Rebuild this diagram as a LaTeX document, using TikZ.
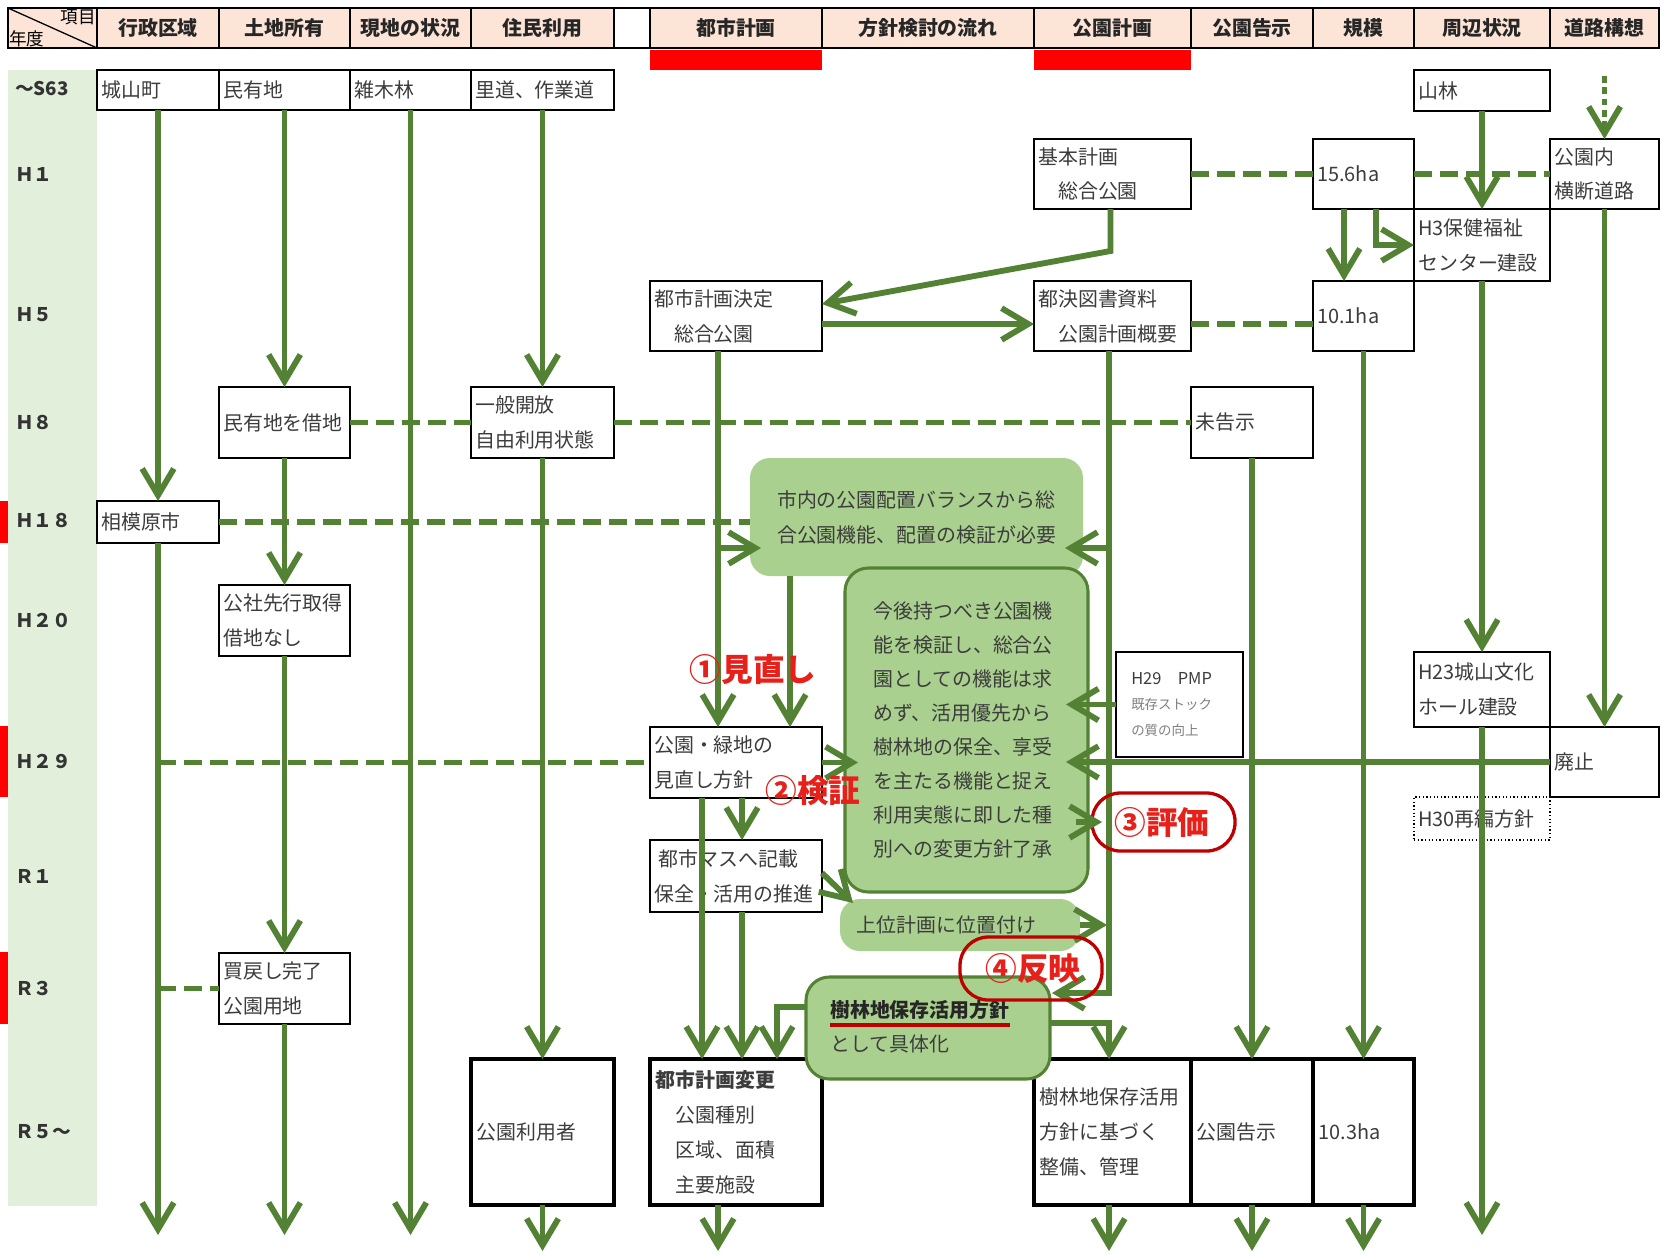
\documentclass[tikz,border=0pt]{standalone}
\usepackage{fontspec}
\setmainfont{Noto Sans CJK JP}
\usetikzlibrary{arrows.meta,fit,calc}
\definecolor{gline}{HTML}{548235}
\definecolor{gfill}{HTML}{A9D08E}
\definecolor{hdr}{HTML}{FCE4D6}
\definecolor{ycol}{HTML}{E2EFDA}
\definecolor{rbar}{HTML}{FF0000}
\definecolor{rtxt}{HTML}{E8201A}
\definecolor{rring}{HTML}{C00000}
\definecolor{tgray}{HTML}{3C3C3C}
\newcommand\mkbox[6][bx]{\node[#1, fit={(#3,#4) (#5,#6)}] (#2) {};}
\newcommand\boxtext[3]{\node[txt,anchor=west] (#1-t) at ([xshift=#2]#1.west) {#3};}
\begin{document}
\begin{tikzpicture}[x=0.03cm,y=-0.03cm,
  bx/.style={draw=black, line width=1.1pt, fill=white, inner sep=0pt, outer sep=0pt},
  tbx/.style={draw=black, line width=3.4pt, fill=white, inner sep=0pt, outer sep=0pt},
  dbx/.style={draw=black, line width=1.1pt, dotted, inner sep=0pt, outer sep=0pt},
  hcell/.style={draw=black, line width=1.1pt, fill=hdr, inner sep=0pt, outer sep=0pt},
  wcell/.style={draw=black, line width=1.1pt, fill=white, inner sep=0pt, outer sep=0pt},
  gbox/.style={fill=gfill, rounded corners=0.6cm, inner sep=0pt, outer sep=0pt},
  gbbox/.style={fill=gfill, draw=gline, line width=2.6pt, rounded corners=0.7cm, inner sep=0pt, outer sep=0pt},
  ring/.style={draw=rring, line width=2.8pt, rounded corners=0.85cm, inner sep=0pt, outer sep=0pt},
  txt/.style={font=\fontsize{17pt}{29.8pt}\selectfont, align=left, text=tgray, inner sep=0pt},
  htxt/.style={font=\bfseries\fontsize{17pt}{20pt}\selectfont, text=black!85, inner sep=0pt},
  ytxt/.style={font=\bfseries\fontsize{16pt}{20pt}\selectfont, text=black!80, inner sep=0pt, anchor=west},
  rlab/.style={font=\bfseries\fontsize{27pt}{30pt}\selectfont, text=rtxt, inner sep=0pt},
  arr/.style={draw=gline, line width=5pt, -{Straight Barb[length=0.8cm,width=0.95cm]}},
  dsh/.style={draw=gline, line width=5pt, dash pattern=on 0.54cm off 0.24cm},
  dtarr/.style={draw=gline, line width=5pt, dash pattern=on 0.2cm off 0.14cm, -{Straight Barb[length=0.8cm,width=0.95cm]}},
]
\fill[white] (0,0) rectangle (1662,1254);
\useasboundingbox (0,0) rectangle (1662,1254);
% year column
\fill[ycol] (8,70) rectangle (97,1206);
\fill[rbar] (0,501) rectangle (8,543);
\fill[rbar] (0,726) rectangle (8,797);
\fill[rbar] (0,952) rectangle (8,1024);
% header
\mkbox[hcell]{hc0}{8}{8}{97}{48}
\draw[line width=1.1pt] (hc0.north west) -- (hc0.south east);
\node[anchor=north east, font=\fontsize{15pt}{16pt}\selectfont, inner sep=1pt] (hc0a) at (hc0.north east) {項目};
\node[anchor=south west, font=\fontsize{15pt}{16pt}\selectfont, inner sep=1pt] (hc0b) at (hc0.south west) {年度};
\mkbox[hcell]{hc1}{97}{8}{219}{48}\node[htxt] (hc1-t) at (hc1) {行政区域};
\mkbox[hcell]{hc2}{219}{8}{350}{48}\node[htxt] (hc2-t) at (hc2) {土地所有};
\mkbox[hcell]{hc3}{350}{8}{471}{48}\node[htxt] (hc3-t) at (hc3) {現地の状況};
\mkbox[hcell]{hc4}{471}{8}{614}{48}\node[htxt] (hc4-t) at (hc4) {住民利用};
\mkbox[wcell]{hc5}{614}{8}{650}{48}
\mkbox[hcell]{hc6}{650}{8}{822}{48}\node[htxt] (hc6-t) at (hc6) {都市計画};
\mkbox[hcell]{hc7}{822}{8}{1034}{48}\node[htxt] (hc7-t) at (hc7) {方針検討の流れ};
\mkbox[hcell]{hc8}{1034}{8}{1191}{48}\node[htxt] (hc8-t) at (hc8) {公園計画};
\mkbox[hcell]{hc9}{1191}{8}{1313}{48}\node[htxt] (hc9-t) at (hc9) {公園告示};
\mkbox[hcell]{hc10}{1313}{8}{1414}{48}\node[htxt] (hc10-t) at (hc10) {規模};
\mkbox[hcell]{hc11}{1414}{8}{1550}{48}\node[htxt] (hc11-t) at (hc11) {周辺状況};
\mkbox[hcell]{hc12}{1550}{8}{1659}{48}\node[htxt] (hc12-t) at (hc12) {道路構想};
\fill[rbar] (650,50) rectangle (822,70);
\fill[rbar] (1034,50) rectangle (1191,70);
% year labels
\node[ytxt] (y0) at (15,89) {～S63};
\node[ytxt] (y1) at (15,174) {Ｈ１};
\node[ytxt] (y2) at (15,315) {Ｈ５};
\node[ytxt] (y3) at (15,422) {Ｈ８};
\node[ytxt] (y4) at (15,520) {Ｈ１８};
\node[ytxt] (y5) at (15,620) {Ｈ２０};
\node[ytxt] (y6) at (15,761) {Ｈ２９};
\node[ytxt] (y7) at (15,876) {Ｒ１};
\node[ytxt] (y8) at (15,988) {Ｒ３};
\node[ytxt] (y9) at (15,1132) {Ｒ５～};
% boxes
\mkbox{jyo}{97}{70}{219}{110}\boxtext{jyo}{0.12cm}{城山町}
\mkbox{minyu}{219}{70}{350}{110}\boxtext{minyu}{0.12cm}{民有地}
\mkbox{zoki}{350}{70}{471}{110}\boxtext{zoki}{0.12cm}{雑木林}
\mkbox{rido}{471}{70}{614}{110}\boxtext{rido}{0.12cm}{里道、作業道}
\mkbox{sanrin}{1414}{70}{1550}{111}\boxtext{sanrin}{0.12cm}{山林}
\mkbox{kihon}{1034}{139}{1191}{209}\boxtext{kihon}{0.12cm}{基本計画\\　総合公園}
\mkbox{fif}{1313}{139}{1414}{209}\boxtext{fif}{0.12cm}{15.6ha}
\mkbox{kouen}{1550}{139}{1659}{209}\boxtext{kouen}{0.12cm}{公園内\\横断道路}
\mkbox{h3}{1414}{209}{1550}{281}\boxtext{h3}{0.12cm}{H3保健福祉\\センター建設}
\mkbox{toshi}{650}{281}{822}{351}\boxtext{toshi}{0.12cm}{都市計画決定\\　総合公園}
\mkbox{ketsu}{1034}{281}{1191}{351}\boxtext{ketsu}{0.12cm}{都決図書資料\\　公園計画概要}
\mkbox{ten1}{1313}{281}{1414}{351}\boxtext{ten1}{0.12cm}{10.1ha}
\mkbox{shak}{219}{387}{350}{458}\boxtext{shak}{0.12cm}{民有地を借地}
\mkbox{ippan}{471}{387}{614}{458}\boxtext{ippan}{0.12cm}{一般開放\\自由利用状態}
\mkbox{mikoku}{1191}{387}{1313}{458}\boxtext{mikoku}{0.12cm}{未告示}
\mkbox{sag}{97}{501}{219}{543}\boxtext{sag}{0.12cm}{相模原市}
\mkbox{kosha}{219}{585}{350}{656}\boxtext{kosha}{0.12cm}{公社先行取得\\借地なし}
\mkbox{pmp}{1116}{652}{1243}{757}
\node[anchor=west, inner sep=0pt, align=left, text=tgray, font=\fontsize{14pt}{22pt}\selectfont] (pmp-t) at ([xshift=0.45cm]pmp.west) {H29　PMP\\{\color{gray}\fontsize{11.5pt}{22pt}\selectfont 既存ストック}\\{\color{gray}\fontsize{11.5pt}{22pt}\selectfont の質の向上}};
\mkbox{h23}{1414}{652}{1550}{727}\boxtext{h23}{0.12cm}{H23城山文化\\ホール建設}
\mkbox{haishi}{1550}{727}{1659}{797}\boxtext{haishi}{0.12cm}{廃止}
\mkbox[dbx]{h30}{1414}{797}{1550}{840}\boxtext{h30}{0.12cm}{H30再編方針}
\mkbox{minaoshi}{650}{727}{822}{798}\boxtext{minaoshi}{0.12cm}{公園・緑地の\\見直し方針}
\mkbox{toshimasu}{650}{840}{822}{912}\boxtext{toshimasu}{0.12cm}{\hspace{0.14cm}都市マスへ記載\\保全・活用の推進}
\mkbox{kaimo}{219}{953}{350}{1024}\boxtext{kaimo}{0.12cm}{買戻し完了\\公園用地}
\mkbox[tbx]{riyo}{471}{1059}{614}{1205}\boxtext{riyo}{0.16cm}{公園利用者}
\mkbox[tbx]{henko}{650}{1059}{822}{1205}\boxtext{henko}{0.16cm}{\textbf{都市計画変更}\\　公園種別\\　区域、面積\\　主要施設}
\mkbox[tbx]{seibi}{1034}{1059}{1191}{1205}\boxtext{seibi}{0.16cm}{樹林地保存活用\\方針に基づく\\整備、管理}
\mkbox[tbx]{kokuji}{1191}{1059}{1313}{1205}\boxtext{kokuji}{0.16cm}{公園告示}
\mkbox[tbx]{ten3}{1313}{1059}{1414}{1205}\boxtext{ten3}{0.16cm}{10.3ha}
% green boxes
\mkbox[gbox]{g1}{750}{458}{1083}{576}
\node[txt, align=left] (g1-t) at (g1) {市内の公園配置バランスから総\\合公園機能、配置の検証が必要};
\mkbox[gbbox]{g2}{845}{568}{1088}{892}
\node[txt, align=left, font=\fontsize{17pt}{29pt}\selectfont] (g2-t) at ([xshift=-0.1cm]g2) {今後持つべき公園機\\能を検証し、総合公\\園としての機能は求\\めず、活用優先から\\樹林地の保全、享受\\を主たる機能と捉え\\利用実態に即した種\\別への変更方針了承};
\mkbox[gbox]{joui}{840}{899}{1080}{951}
\node[txt, anchor=west] (joui-t) at ([xshift=0.5cm]joui.west) {上位計画に位置付け};
\mkbox[gbbox]{jurin}{806}{977}{1050}{1079}
\node[txt, anchor=west, font=\fontsize{17pt}{29pt}\selectfont] (jurin-t) at ([xshift=0.72cm, yshift=0.05cm]jurin.west) {\textbf{\color{black!85}樹林地保存活用方針}\\として具体化};
\fill[rring] (830,1023) rectangle (1010,1027);
% coordinates
\coordinate (botA) at (0,1235);
\coordinate (botB) at (0,1251);
\coordinate (xR) at (158,0);
\coordinate (xT0) at (702,0);
\coordinate (xT1) at (718,0);
\coordinate (xT2) at (742,0);
\coordinate (xT3) at (777,0);
\coordinate (xG1) at (790,0);
\coordinate (xK) at (1109,0);
\coordinate (xA) at (1344,0);
\coordinate (xB) at (1376,0);
\coordinate (b1) at (718,548);
\coordinate (k993) at (1109,993);
% 行政区域
\draw[arr] (jyo.south) -- (sag.north);
\draw[arr] (sag.south) -- (sag.south |- botA);
\draw[dsh] (sag.east) -- (g1.west |- sag.east);
\draw[dsh] (xR |- minaoshi.west) -- (minaoshi.west);
\draw[dsh] (xR |- kaimo.west) -- (kaimo.west);
% 土地所有
\draw[arr] (minyu.south) -- (shak.north);
\draw[arr] (shak.south) -- (kosha.north);
\draw[arr] (kosha.south) -- (kaimo.north);
\draw[arr] (kaimo.south) -- (kaimo.south |- botA);
\draw[dsh] (shak.east) -- (ippan.west);
\draw[dsh] (ippan.east) -- (mikoku.west);
% 現地の状況
\draw[arr] (zoki.south) -- (zoki.south |- botA);
% 住民利用
\draw[arr] (rido.south) -- (ippan.north);
\draw[arr] (ippan.south) -- (riyo.north);
\draw[arr] (riyo.south) -- (riyo.south |- botB);
% 都市計画
\draw[arr] (toshi.south -| xT1) -- (minaoshi.north -| xT1);
\draw[arr] (b1) -- ($(g1.west |- b1)+(11,0)$);
\draw[arr] (g1.south -| xG1) -- (minaoshi.north -| xG1);
\draw[arr] (minaoshi.south -| xT0) -- (henko.north -| xT0);
\draw[arr] (minaoshi.south -| xT2) -- (toshimasu.north -| xT2);
\draw[arr] (toshimasu.south -| xT2) -- (henko.north -| xT2);
\draw[arr] ($(jurin.west)+(0,-21)$) -| (henko.north -| xT3);
\draw[arr] (minaoshi.east) -- ($(g2.west |- minaoshi.east)+(13,0)$);
\draw[arr] ($(toshimasu.east)+(0,-3)$) -- ($(joui.north west)+(13,4)$);
\draw[arr] (joui.east) -- ($(xK |- joui.east)+(-2,0)$);
\draw[arr] (henko.south -| xT1) -- (xT1 |- botB);
% 公園計画
\draw[arr] ($(kihon.south)+(-2,0)$) -- ++(0,42) -- ($(toshi.east)+(0,-12)$);
\draw[arr] ($(toshi.east)+(0,8)$) -- ($(ketsu.west)+(0,8)$);
\draw[dsh] (kihon.east) -- (fif.west);
\draw[dsh] (fif.east) -- (kouen.west);
\draw[dsh] ($(ketsu.east)+(0,8)$) -- ($(ten1.west)+(0,8)$);
\draw[arr] (ketsu.south -| xK) -- (k993) -- ($(jurin.east |- k993)+(2,0)$);
\draw[arr] (xK |- b1) -- ($(g1.east |- b1)+(-18,0)$);
\draw[arr] ($(jurin.east)+(0,-5)$) -| (seibi.north -| xK);
\draw[arr] (seibi.south -| xK) -- (xK |- botB);
\draw[arr] (pmp.west) -- ($(g2.east |- pmp.west)+(-22,0)$);
\draw[arr] (haishi.west) -- ($(g2.east |- haishi.west)+(-22,0)$);
% 公園告示
\draw[arr] (mikoku.south) -- (kokuji.north);
\draw[arr] (kokuji.south) -- (kokuji.south |- botB);
% 規模
\draw[arr] (fif.south -| xA) -- (ten1.north -| xA);
\draw[arr] (fif.south -| xB) |- (h3.west);
\draw[arr] (ten1.south) -- (ten3.north);
\draw[arr] (ten3.south) -- (ten3.south |- botB);
% 周辺状況
\draw[arr] (sanrin.south) -- (h3.north);
\draw[arr] (h3.south) -- (h23.north);
\draw[arr] (h23.south) -- (h23.south |- botA);
% 道路構想
\draw[dtarr] ($(kouen.north)+(0,-63)$) -- (kouen.north);
\draw[arr] (kouen.south) -- (haishi.north);
% rings and red labels
\mkbox[ring]{hyoka}{1092}{793}{1235}{851}
\mkbox[ring]{hanei}{960}{937}{1102}{1000}
\draw[arr] ($(g2.east)+(-12,92)$) -- ($(hyoka.west)+(10,0)$);
\node[rlab] (hyoka-t) at (1162,822) {③評価};
\node[rlab] (hanei-t) at (1033,969) {④反映};
\node[rlab] (mi-t) at (753,669) {①見直し};
\node[rlab] (ke-t) at (813,791) {②検証};
\end{tikzpicture}
\end{document}
